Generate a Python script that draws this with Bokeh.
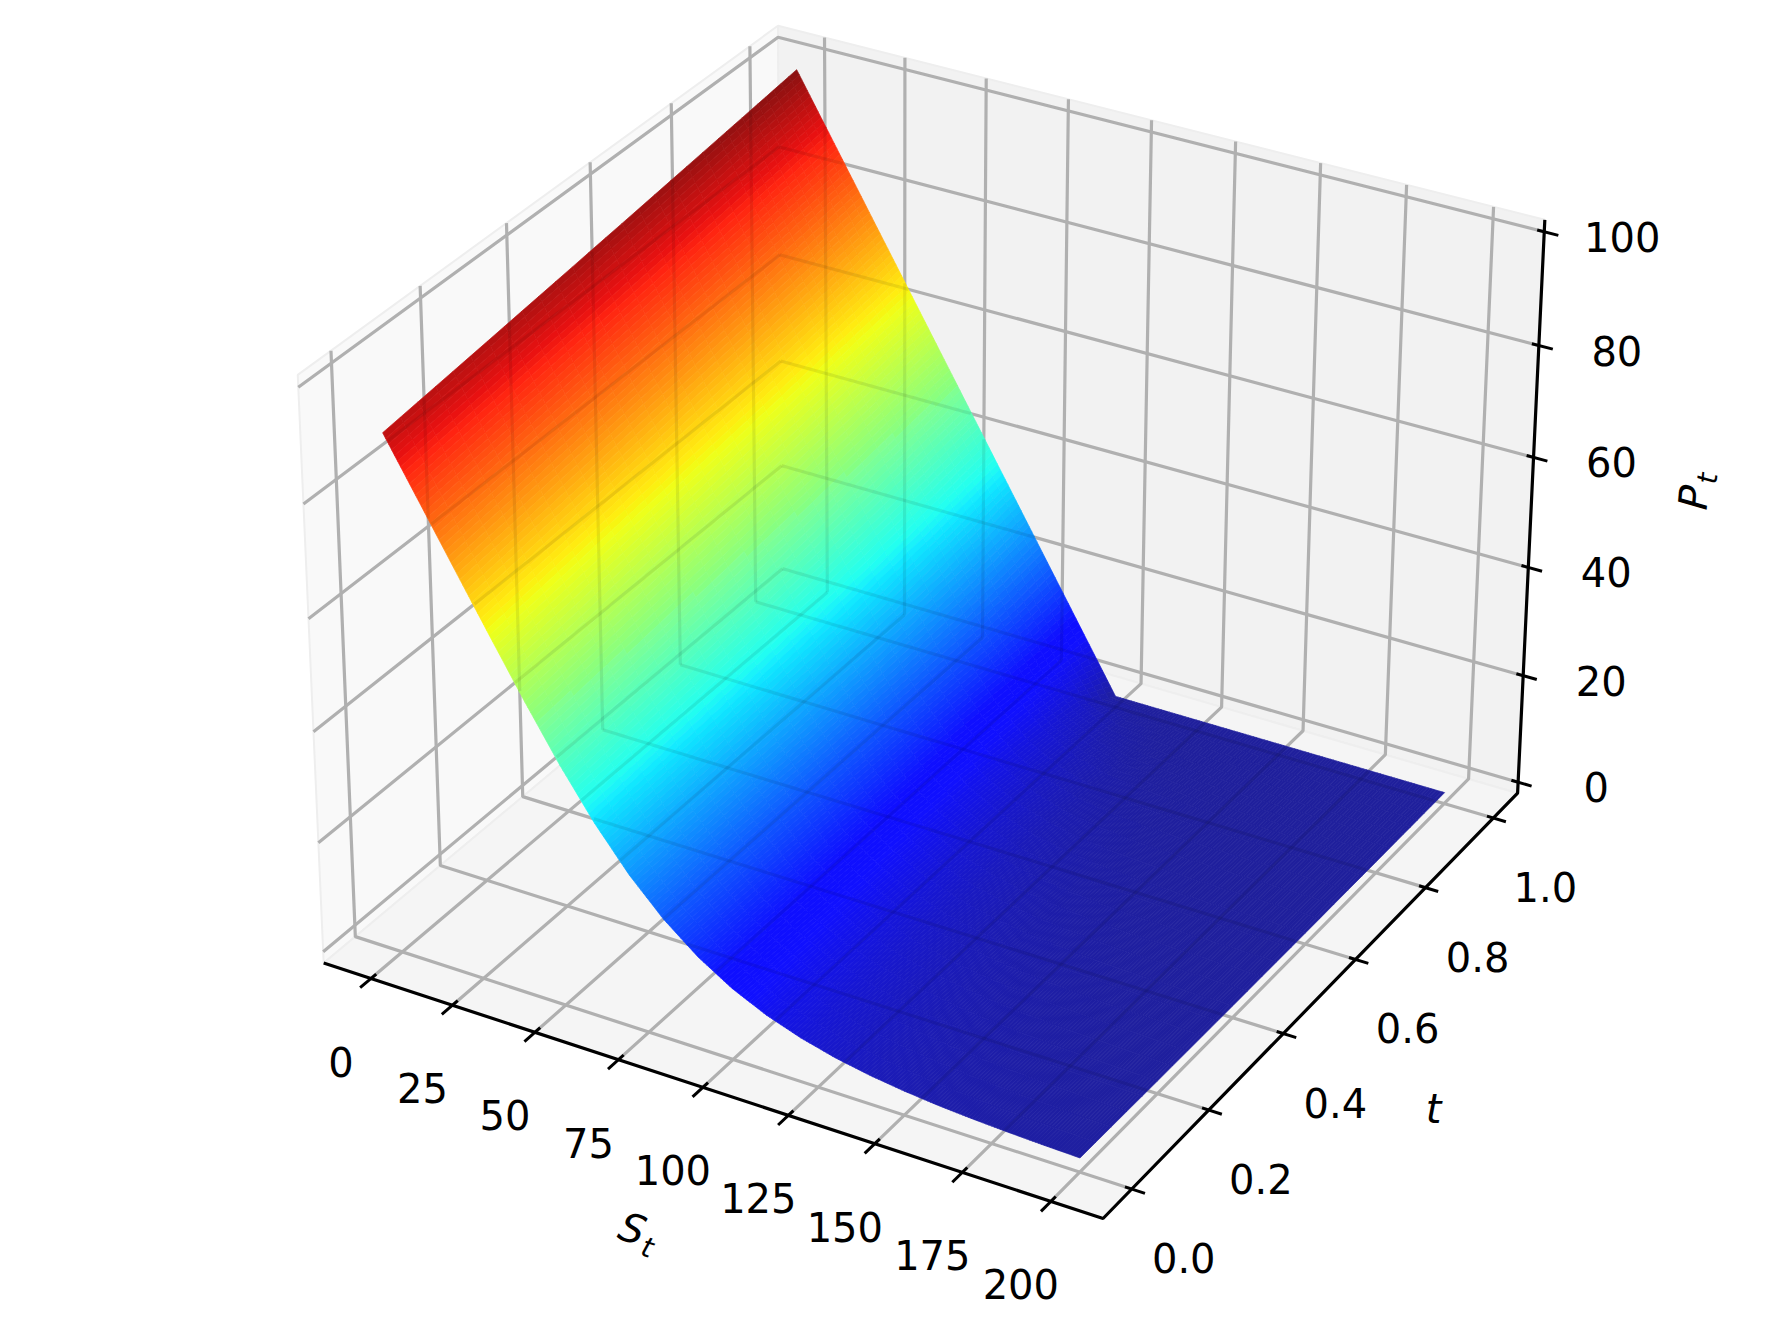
import numpy as np
from bokeh.plotting import figure
from bokeh.models import Range1d
from bokeh.core.properties import value
from bokeh.embed import file_html
from bokeh.resources import INLINE

# put price, one row per t
s_values = [0, 10, 20, 30, 40, 50, 60, 70, 80, 90, 100, 110, 120, 130, 140, 150, 160, 170, 180, 190, 200]
t_values = [0.0, 0.2, 0.4, 0.6, 0.8, 0.9, 1.0]
price_t00 = [90.48, 80.48, 70.48, 60.50, 50.67, 41.29, 32.79, 25.44, 19.38, 14.55, 10.80, 7.96, 5.84, 4.25, 3.10, 2.26, 1.64, 1.21, 0.89, 0.65, 0.47]
price_t02 = [92.31, 82.31, 72.31, 62.31, 52.39, 42.73, 33.77, 25.90, 19.34, 14.14, 10.16, 7.19, 5.05, 3.51, 2.44, 1.68, 1.15, 0.80, 0.55, 0.39, 0.26]
price_t04 = [94.18, 84.18, 74.18, 64.18, 54.19, 44.33, 34.93, 26.44, 19.25, 13.55, 9.26, 6.20, 4.07, 2.62, 1.68, 1.07, 0.68, 0.42, 0.28, 0.18, 0.11]
price_t06 = [96.08, 86.08, 76.08, 66.08, 56.08, 46.10, 36.31, 27.13, 19.10, 12.72, 8.03, 4.85, 2.82, 1.60, 0.87, 0.47, 0.25, 0.13, 0.07, 0.04, 0.02]
price_t08 = [98.02, 88.02, 78.02, 68.02, 58.02, 48.02, 38.03, 28.20, 19.03, 11.47, 6.12, 2.91, 1.25, 0.48, 0.18, 0.06, 0.02, 0.01, 0.00, 0.00, 0.00]
price_t09 = [99.00, 89.00, 79.00, 69.00, 59.00, 49.00, 39.00, 29.01, 19.22, 10.54, 4.52, 1.48, 0.37, 0.06, 0.01, 0.00, 0.00, 0.00, 0.00, 0.00, 0.00]
price_t10 = [100.0, 90.0, 80.0, 70.0, 60.0, 50.0, 40.0, 30.0, 20.0, 10.0, 0.0, 0.0, 0.0, 0.0, 0.0, 0.0, 0.0, 0.0, 0.0, 0.0, 0.0]

s_ticks = [0, 25, 50, 75, 100, 125, 150, 175, 200]
t_ticks = [0.0, 0.2, 0.4, 0.6, 0.8, 1.0]
z_ticks = [0, 20, 40, 60, 80, 100]
s_lim = (-14.6, 214.6)
t_lim = (-0.0729, 1.0729)
z_lim = (-2.08, 102.08)

FONT = value("DejaVu Sans")
LABEL_SIZE = "40px"
SUB_SIZE = "28px"


def fit_camera():
    # bokeh has no 3d, so calibrate a pinhole camera on the corners of the box
    corners = [
        ((0, 0, 0), (323, 962)), ((1, 0, 0), (1103, 1218)), ((1, 1, 0), (1517, 793)),
        ((1, 1, 1), (1544, 219)), ((0, 0, 1), (297, 375)), ((0, 1, 1), (778, 25)),
        ((0, 1, 0), (782, 579)),
    ]
    rows = []
    for (a, b, c), (u, v) in corners:
        rows.append([a, b, c, 1, 0, 0, 0, 0, -u * a, -u * b, -u * c, -u])
        rows.append([0, 0, 0, 0, a, b, c, 1, -v * a, -v * b, -v * c, -v])
    return np.linalg.svd(np.array(rows, dtype=float))[2][-1].reshape(3, 4)


CAMERA = fit_camera()


def project(s, t, z):
    s, t, z = np.broadcast_arrays(np.asarray(s, float), np.asarray(t, float), np.asarray(z, float))
    a = (s - s_lim[0]) / (s_lim[1] - s_lim[0])
    b = (t - t_lim[0]) / (t_lim[1] - t_lim[0])
    c = (z - z_lim[0]) / (z_lim[1] - z_lim[0])
    pts = np.stack([a, b, c, np.ones_like(a)])
    hom = np.tensordot(CAMERA, pts, axes=(1, 0))
    return hom[0] / hom[2], hom[1] / hom[2]


def jet(v):
    r = np.interp(v, [0, 0.35, 0.66, 0.89, 1], [0, 0, 1, 1, 0.5])
    g = np.interp(v, [0, 0.125, 0.375, 0.64, 0.91, 1], [0, 0, 1, 1, 0, 0])
    b = np.interp(v, [0, 0.11, 0.34, 0.65, 1], [0.5, 1, 1, 0, 0])
    return r, g, b


def surface_color(z, t):
    # colour bands in the reference sit about 5% warmer at the t=0 end than at t=1
    r, g, b = jet(min(1.0, z * (1 + 0.05 * (1 - t)) / 100.0))
    # the original surface is slightly see-through, the dark blue washes out the most
    if b > r:
        wash = 0.06 + 0.13 * (1 - max(r, g, b))
        boost = 0.05
    else:
        wash = 0.07
        boost = 0.0
    r, g, b = [(1 - wash) * c + wash for c in (r, g, b)]
    b = min(1.0, b + boost)
    return "#%02x%02x%02x" % (int(r * 255), int(g * 255), int(b * 255))


def grid_paths():
    paths = []
    for s in s_ticks:
        paths.append(([s, s, s], [t_lim[0], t_lim[1], t_lim[1]], [z_lim[0], z_lim[0], z_lim[1]]))
    for t in t_ticks:
        paths.append(([s_lim[1], s_lim[0], s_lim[0]], [t, t, t], [z_lim[0], z_lim[0], z_lim[1]]))
    for z in z_ticks:
        paths.append(([s_lim[0], s_lim[0], s_lim[1]], [t_lim[0], t_lim[1], t_lim[1]], [z, z, z]))
    return paths


def inside(px, py, poly_x, poly_y):
    hit = np.zeros(px.shape, dtype=bool)
    j = len(poly_x) - 1
    for i in range(len(poly_x)):
        crosses = (poly_y[i] > py) != (poly_y[j] > py)
        with np.errstate(divide="ignore", invalid="ignore"):
            at = (poly_x[j] - poly_x[i]) * (py - poly_y[i]) / (poly_y[j] - poly_y[i]) + poly_x[i]
        hit ^= crosses & (px < at)
        j = i
    return hit


prices = np.array([price_t00, price_t02, price_t04, price_t06, price_t08, price_t09, price_t10])
s_arr = np.array(s_values, float)
t_arr = np.array(t_values, float)

p = figure(width=1775, height=1307, x_range=Range1d(0, 1775), y_range=Range1d(1307, 0),
           output_backend="svg", toolbar_location=None, min_border=0)
p.axis.visible = False
p.grid.visible = False
p.outline_line_color = None
p.background_fill_color = "white"

# panes
s0, s1 = s_lim
t0, t1 = t_lim
z0, z1 = z_lim
panes = [
    ([s0, s0, s0, s0], [t0, t1, t1, t0], [z0, z0, z1, z1], "#f9f9f9"),
    ([s0, s1, s1, s0], [t1, t1, t1, t1], [z0, z0, z1, z1], "#f2f2f2"),
    ([s0, s1, s1, s0], [t0, t0, t1, t1], [z0, z0, z0, z0], "#f5f5f5"),
]
for ps, pt, pz, color in panes:
    px, py = project(ps, pt, pz)
    p.patch(list(px), list(py), fill_color=color, line_color="#eeeeee", line_width=2)

# gridlines
grid_xs, grid_ys = [], []
for gs, gt, gz in grid_paths():
    gx, gy = project(gs, gt, gz)
    grid_xs.append(list(gx))
    grid_ys.append(list(gy))
p.multi_line(grid_xs, grid_ys, line_color="#b0b0b0", line_width=3.2)

# surface, each cell of the table painted in small bands of its own colour ramp
STEPS_S, STEPS_T = 12, 5
facet_xs, facet_ys, facet_colors = [], [], []
for j in range(len(t_arr) - 2, -1, -1):
    for i in range(len(s_arr) - 1):
        for m in range(STEPS_T - 1, -1, -1):
            for n in range(STEPS_S):
                us = np.array([n, n + 1, n + 1, n]) / STEPS_S
                vs = np.array([m, m, m + 1, m + 1]) / STEPS_T
                zz = ((1 - us) * (1 - vs) * prices[j, i] + us * (1 - vs) * prices[j, i + 1]
                      + (1 - us) * vs * prices[j + 1, i] + us * vs * prices[j + 1, i + 1])
                tt = t_arr[j] + vs * (t_arr[j + 1] - t_arr[j])
                fx, fy = project(s_arr[i] + us * (s_arr[i + 1] - s_arr[i]), tt, zz)
                facet_xs.append(list(fx))
                facet_ys.append(list(fy))
                facet_colors.append(surface_color(zz.mean(), tt.mean()))
p.patches(facet_xs, facet_ys, fill_color=facet_colors, line_color=facet_colors, line_width=0.7)

# gridlines show faintly through the surface
edge_s = np.concatenate([s_arr, [s_arr[-1]] * len(t_arr), s_arr[::-1], [s_arr[0]] * len(t_arr)])
edge_t = np.concatenate([[t_arr[-1]] * len(s_arr), t_arr[::-1], [t_arr[0]] * len(s_arr), t_arr])
edge_z = np.concatenate([prices[-1], prices[::-1, -1], prices[0, ::-1], prices[:, 0]])
edge_x, edge_y = project(edge_s, edge_t, edge_z)
seen_xs, seen_ys = [], []
for gx, gy in zip(grid_xs, grid_ys):
    for k in range(len(gx) - 1):
        w = np.linspace(0, 1, 300)
        sx = gx[k] + w * (gx[k + 1] - gx[k])
        sy = gy[k] + w * (gy[k + 1] - gy[k])
        mask = inside(sx, sy, edge_x, edge_y)
        seen_xs.append(list(np.where(mask, sx, np.nan)))
        seen_ys.append(list(np.where(mask, sy, np.nan)))
p.multi_line(seen_xs, seen_ys, line_color="black", line_alpha=0.08, line_width=3.2)

# axis lines
ax_s = [s0, s1, s1, s1]
ax_t = [t0, t0, t1, t1]
ax_z = [z0, z0, z0, z1]
ax_x, ax_y = project(ax_s, ax_t, ax_z)
p.line(list(ax_x), list(ax_y), line_color="black", line_width=3.2)

# ticks and tick labels
tick_xs, tick_ys = [], []
for s in s_ticks:
    tx, ty = project([s, s], [t0 + 0.0123, t0 - 0.0247], [z0, z0])
    tick_xs.append(list(tx))
    tick_ys.append(list(ty))
for t in t_ticks:
    tx, ty = project([s1 - 1.9, s1 + 3.7], [t, t], [z0, z0])
    tick_xs.append(list(tx))
    tick_ys.append(list(ty))
for z in z_ticks:
    tx, ty = project([s1 - 2.0, s1 + 4.0], [t1, t1], [z, z])
    tick_xs.append(list(tx))
    tick_ys.append(list(ty))
p.multi_line(tick_xs, tick_ys, line_color="black", line_width=3)

lx, ly = project(s_ticks, t0, z0)
p.text(list(lx), list(ly), text=[str(s) for s in s_ticks], x_offset=-30, y_offset=83, text_font=FONT,
       text_font_size=LABEL_SIZE, text_align="center", text_baseline="middle", text_color="black")
lx, ly = project(s1, t_ticks, z0)
p.text(list(lx), list(ly), text=["%.1f" % t for t in t_ticks], x_offset=52, y_offset=69, text_font=FONT,
       text_font_size=LABEL_SIZE, text_align="center", text_baseline="middle", text_color="black")
lx, ly = project(s1, t1, z_ticks)
p.text(list(lx), list(ly), text=[str(z) for z in z_ticks], x_offset=78, y_offset=5, text_font=FONT,
       text_font_size=LABEL_SIZE, text_align="center", text_baseline="middle", text_color="black")

# axis titles
p.text([632], [1228], text=["S"], angle=np.radians(-18), text_font=FONT, text_font_style="italic",
       text_font_size=LABEL_SIZE, text_align="center", text_baseline="middle", text_color="black")
p.text([647], [1247], text=["t"], angle=np.radians(-18), text_font=FONT, text_font_style="italic",
       text_font_size=SUB_SIZE, text_align="center", text_baseline="middle", text_color="black")
p.text([1433], [1108], text=["t"], text_font=FONT, text_font_style="italic",
       text_font_size=LABEL_SIZE, text_align="center", text_baseline="middle", text_color="black")
p.text([1693], [497], text=["P"], angle=np.radians(85), text_font=FONT, text_font_style="italic",
       text_font_size=LABEL_SIZE, text_align="center", text_baseline="middle", text_color="black")
p.text([1707], [478], text=["t"], angle=np.radians(85), text_font=FONT, text_font_style="italic",
       text_font_size=SUB_SIZE, text_align="center", text_baseline="middle", text_color="black")

open("out.html", "w").write(file_html(p, INLINE))
